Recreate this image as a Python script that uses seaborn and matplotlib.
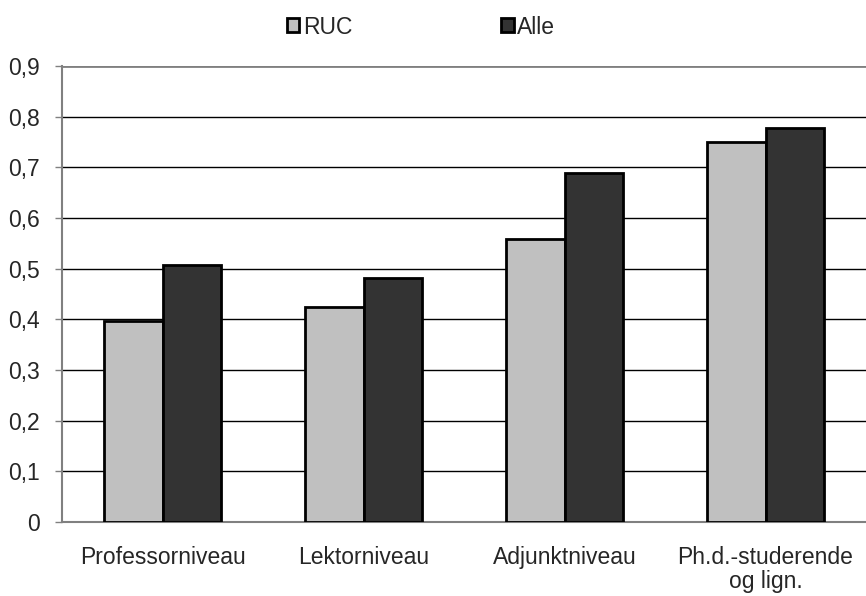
import matplotlib
matplotlib.use("Agg")
import matplotlib.pyplot as plt
import seaborn as sns
import pandas as pd

categories = ["Professorniveau", "Lektorniveau", "Adjunktniveau", "Ph.d.-studerende\nog lign."]
ruc = [0.397, 0.424, 0.558, 0.750]
alle = [0.507, 0.481, 0.689, 0.778]
series = ["RUC", "Alle"]
yticks = [0, 0.1, 0.2, 0.3, 0.4, 0.5, 0.6, 0.7, 0.8, 0.9]
ytick_labels = ["0", "0,1", "0,2", "0,3", "0,4", "0,5", "0,6", "0,7", "0,8", "0,9"]

df = pd.DataFrame({
    "Kategori": categories * 2,
    "Serie": [series[0]] * 4 + [series[1]] * 4,
    "Værdi": ruc + alle,
})

sns.set_style("white")
plt.rcParams['font.family'] = ['Liberation Sans', 'DejaVu Sans']
FS = 16.5

fig = plt.figure(figsize=(8.66, 5.96), dpi=100)
ax = fig.add_axes([62/866, 1-522/596, 1-62/866, (522-66)/596])

for y in yticks[1:-1]:
    ax.axhline(y, color="black", lw=1.0, zorder=0)
ax.axhline(0.9, color="#808080", lw=2.0, zorder=0)

sns.barplot(data=df, x="Kategori", y="Værdi", hue="Serie",
            palette={"RUC": "#C0C0C0", "Alle": "#333333"},
            width=0.58, edgecolor="black", linewidth=2.0, ax=ax,
            saturation=1, zorder=3)

ax.set_ylim(0, 0.9)
ax.set_xlim(-0.5, 3.5)
ax.set_yticks(yticks)
ax.set_yticklabels(ytick_labels, fontsize=FS)
ax.set_xticks(range(4))
ax.set_xticklabels(categories, fontsize=FS, linespacing=1.05)
ax.set_xticks([-0.5, 0.5, 1.5, 2.5, 3.5], minor=True)
ax.tick_params(axis='x', which='major', length=0, pad=17)
ax.tick_params(axis='x', which='minor', length=6, width=1, color="#808080")
ax.tick_params(axis='y', which='major', length=5, width=1, color="#808080", pad=11, left=True)
ax.set_xlabel("")
ax.set_ylabel("")

for s in ["top", "right"]:
    ax.spines[s].set_visible(False)
for s in ["left", "bottom"]:
    ax.spines[s].set_color("#808080")
    ax.spines[s].set_linewidth(1.5)

handles, labels = ax.get_legend_handles_labels()
ax.get_legend().remove()
leg = fig.legend(handles, labels, loc="center", bbox_to_anchor=(421/866, 1-27/596),
                 ncol=2, frameon=False, fontsize=FS, handlelength=0.55, handleheight=0.55,
                 handletextpad=0.15, columnspacing=6.5)

fig.savefig("out.png", dpi=100)
